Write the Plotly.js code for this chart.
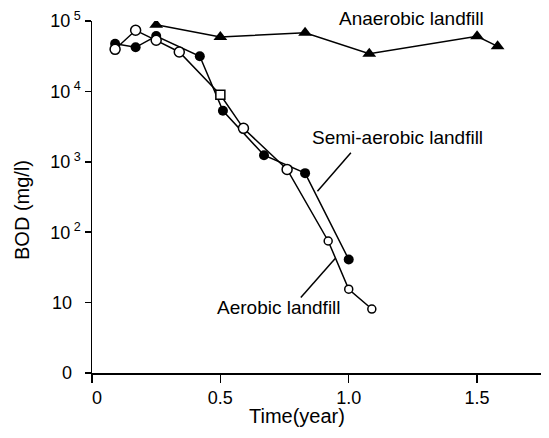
<!DOCTYPE html>
<html>
<head>
<meta charset="utf-8">
<script src="https://cdn.plot.ly/plotly-3.0.1.min.js"></script>
<style>html,body{margin:0;padding:0;background:#fff}#chart{width:549px;height:438px}</style>
</head>
<body>
<div id="chart"></div>
<script>
// Time in years
var semiX = [0.09, 0.17, 0.25, 0.42, 0.51, 0.67, 0.83, 1.0];
var semiY = [47400, 42300, 61200, 31500, 5300, 1240, 690, 41];

var aeroX = [0.09, 0.17, 0.25, 0.34, 0.50, 0.59, 0.76, 0.92, 1.0, 1.09];
var aeroY = [39600, 73800, 53200, 36300, 8950, 2990, 780, 75, 15.5, 8.1];
var aeroSquareIndex = 4;

var anaX = [0.25, 0.50, 0.83, 1.08, 1.50, 1.58];
var anaY = [88300, 59300, 68000, 34400, 60600, 43700];

var yTickVals = [1, 10, 100, 1000, 10000, 100000];
// labels without superscript are drawn as annotations so they align with the base digits
var yTickText = ["", "", "10<sup> 2</sup>", "10<sup> 3</sup>", "10<sup> 4</sup>", "10<sup> 5</sup>"];
var yPlainTickVals = [1, 10];
var yPlainTickText = ["0", "10"];
var xTickVals = [0, 0.5, 1.0, 1.5];
var xTickText = ["\u00a0\u00a00", "0.5", "1.0", "1.5"];

var xTitle = "Time(year)";
var yTitle = "BOD (mg/l)";
var labels = ["Anaerobic landfill", "Semi-aerobic landfill", "Aerobic landfill"];

var FONT = "Liberation Sans, Arial, sans-serif";
var lineStyle = {color: "#000", width: 1.5};

var traces = [
  {
    x: semiX, y: semiY, type: "scatter", mode: "lines+markers",
    line: lineStyle,
    marker: {symbol: "circle", size: 10, color: "#000", opacity: 1},
    showlegend: false
  },
  {
    x: aeroX, y: aeroY, type: "scatter", mode: "lines+markers",
    line: lineStyle,
    marker: {
      symbol: aeroX.map(function(_, i){ return i === aeroSquareIndex ? "square" : "circle"; }),
      size: aeroX.map(function(_, i){ return i === aeroSquareIndex ? 9 : (i >= 7 ? 8 : 10); }),
      color: "rgb(255,255,255)",
      opacity: 1,
      line: {color: "#000", width: 1.5}
    },
    showlegend: false
  },
  {
    x: anaX, y: anaY, type: "scatter", mode: "lines+markers",
    line: lineStyle,
    marker: {symbol: "triangle-up", size: 12, color: "#000", opacity: 1},
    showlegend: false
  }
];

var annotations = [
  {text: labels[0], xref: "paper", yref: "paper", x: 0.711, y: 1.007, xanchor: "center", yanchor: "middle", showarrow: false, font: {family: FONT, size: 19, color: "#000"}},
  {text: labels[1], xref: "paper", yref: "paper", x: 0.681, y: 0.668, xanchor: "center", yanchor: "middle", showarrow: false, font: {family: FONT, size: 19, color: "#000"}},
  {text: labels[2], xref: "paper", yref: "paper", x: 0.417, y: 0.185, xanchor: "center", yanchor: "middle", showarrow: false, font: {family: FONT, size: 19, color: "#000"}},
  {text: xTitle, xref: "paper", yref: "paper", x: 0.4555, y: -0.1222, xanchor: "center", yanchor: "middle", showarrow: false, font: {family: FONT, size: 20, color: "#000"}},
  {text: yTitle, xref: "paper", yref: "paper", x: -0.1548, y: 0.4645, xanchor: "center", yanchor: "middle", textangle: -90, showarrow: false, font: {family: FONT, size: 20, color: "#000"}}
];
yPlainTickVals.forEach(function(v, i){
  annotations.push({
    text: yPlainTickText[i], xref: "paper", yref: "y", x: -0.040, y: Math.log10(v),
    xanchor: "right", yanchor: "middle", showarrow: false,
    font: {family: FONT, size: 18, color: "#000"}
  });
});

var layout = {
  width: 549, height: 438,
  margin: {l: 92, r: 8, t: 21, b: 65},
  paper_bgcolor: "#fff", plot_bgcolor: "#fff",
  font: {family: FONT, size: 18, color: "#000"},
  showlegend: false,
  xaxis: {
    range: [0, 1.749], showgrid: false, zeroline: false,
    showline: true, linecolor: "#000", linewidth: 1.5,
    ticks: "outside", ticklen: 8, tickwidth: 1.5, tickcolor: "#000",
    tickvals: xTickVals, ticktext: xTickText,
    tickfont: {family: FONT, size: 18, color: "#000"}
  },
  yaxis: {
    type: "log", range: [0, 5], showgrid: false, zeroline: false,
    showline: true, linecolor: "#000", linewidth: 1.5,
    ticks: "outside", ticklen: 6, tickwidth: 1.5, tickcolor: "#000",
    tickvals: yTickVals, ticktext: yTickText,
    tickfont: {family: FONT, size: 18, color: "#000"}
  },
  annotations: annotations,
  shapes: [
    {type: "line", xref: "paper", yref: "paper", x0: 0.5766, y0: 0.626, x1: 0.5021, y1: 0.5162, line: {color: "#000", width: 1.5}},
    {type: "line", xref: "paper", yref: "paper", x0: 0.5416, y0: 0.325, x1: 0.4651, y1: 0.2142, line: {color: "#000", width: 1.5}}
  ]
};

Plotly.newPlot("chart", traces, layout, {staticPlot: true, displayModeBar: false});
</script>
</body>
</html>
